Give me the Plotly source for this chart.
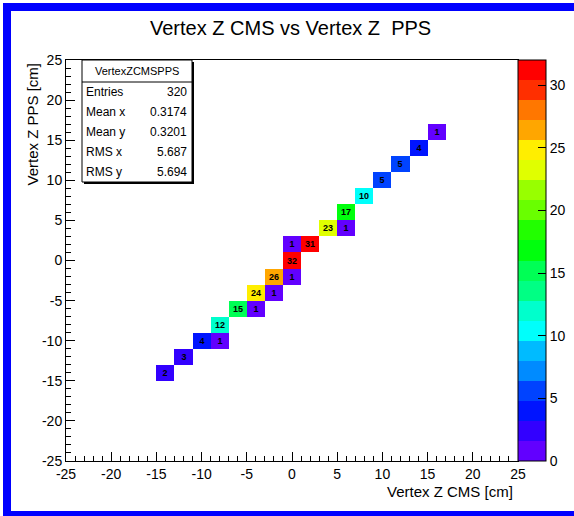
import colorsys
import numpy as np
import plotly.graph_objects as go

# ---------------- data ----------------
title_text = "Vertex Z CMS vs Vertex Z  PPS"
x_title = "Vertex Z CMS [cm]"
y_title = "Vertex Z PPS [cm]"

bin_centers = [-24, -22, -20, -18, -16, -14, -12, -10, -8, -6, -4, -2, 0,
               2, 4, 6, 8, 10, 12, 14, 16, 18, 20, 22, 24]

cell_x = [-14, -12, -10, -8, -8, -6, -4, -4, -2, -2, 0, 0, 0, 2, 4, 6, 6, 8, 10, 12, 14, 16]
cell_y = [-14, -12, -10, -10, -8, -6, -6, -4, -4, -2, -2, 0, 2, 2, 4, 4, 6, 8, 10, 12, 14, 16]
counts = [2, 3, 4, 1, 12, 15, 1, 24, 1, 26, 1, 32, 1, 31, 23, 1, 17, 10, 5, 5, 4, 1]

stats_name = "VertexZCMSPPS"
stats_labels = ["Entries", "Mean x", "Mean y", "RMS x", "RMS y"]
stats_values = ["320", "0.3174", "0.3201", "5.687", "5.694"]

z_ticks = [0, 5, 10, 15, 20, 25, 30]
axis_ticks = [-25, -20, -15, -10, -5, 0, 5, 10, 15, 20, 25]

# ---------------- build grid ----------------
n = len(bin_centers)
z = [[None] * n for _ in range(n)]
for cx, cy, c in zip(cell_x, cell_y, counts):
    z[bin_centers.index(cy)][bin_centers.index(cx)] = c

# ROOT "pretty palette" (violet -> red), 20 contour levels
ncont = 20
zmin, zmax = 0, 32
bands = []
for k in range(ncont):
    idx = int((k + 0.99) * 50 / ncont)
    hue = max(0.0, 280 - (idx + 1) * 280 / 50) if idx < 49 else 0.0
    r, g, b = colorsys.hls_to_rgb(hue / 360.0, 0.5, 1.0)
    bands.append(f"rgb({int(r*255)},{int(g*255)},{int(b*255)})")
colorscale = []
for k, c in enumerate(bands):
    colorscale.append([k / ncont, c])
    colorscale.append([(k + 1) / ncont, c])

# ---------------- layout geometry ----------------
W, H = 574, 516
ml, mr, mt, mb = 66, 56, 60, 55
pw, ph = W - ml - mr, H - mt - mb


def fx(px):
    return (px - ml) / pw


def fy(py):
    return 1 - (py - mt) / ph


FONT = "Liberation Sans, Arial, Helvetica, sans-serif"

fig = go.Figure()
fig.add_trace(go.Heatmap(
    x=bin_centers, y=bin_centers, z=z,
    zmin=zmin, zmax=zmax, colorscale=colorscale,
    texttemplate="<b>%{z}</b>",
    textfont=dict(size=9, color="black", family=FONT),
    hoverongaps=False,
    colorbar=dict(
        x=fx(518), xanchor="left", y=fy(60), yanchor="top",
        len=ph, lenmode="pixels", thickness=28, thicknessmode="pixels",
        xpad=0, ypad=0, outlinewidth=1, outlinecolor="black",
        ticks="inside", ticklen=8, tickcolor="black", tickwidth=1,
        tickvals=z_ticks, ticktext=[str(t) for t in z_ticks],
        tickfont=dict(size=14, color="black", family=FONT),
    ),
))

axis_common = dict(
    range=[-25, 25], tickvals=axis_ticks, ticktext=[str(t) for t in axis_ticks],
    ticks="inside", ticklen=9, tickcolor="black", tickwidth=1,
    minor=dict(dtick=1, ticks="inside", ticklen=5, tickcolor="black", tick0=-25),
    showline=True, linecolor="black", linewidth=1, mirror=True,
    showgrid=False, zeroline=False,
    tickfont=dict(size=14, color="black", family=FONT),
)
fig.update_xaxes(**axis_common)
fig.update_yaxes(**axis_common)

shapes = []
# blue canvas frame
shapes.append(dict(type="rect", xref="paper", yref="paper",
                   x0=fx(7), x1=fx(600), y0=fy(7), y1=fy(515),
                   line=dict(color="#0000ff", width=8), fillcolor="rgba(0,0,0,0)"))
# stats box shadow + box
shapes.append(dict(type="rect", xref="paper", yref="paper",
                   x0=fx(84), x1=fx(194), y0=fy(62), y1=fy(184),
                   line=dict(width=0), fillcolor="black"))
shapes.append(dict(type="rect", xref="paper", yref="paper",
                   x0=fx(82), x1=fx(192), y0=fy(60), y1=fy(182),
                   line=dict(color="black", width=1), fillcolor="white"))
shapes.append(dict(type="line", xref="paper", yref="paper",
                   x0=fx(82), x1=fx(192), y0=fy(82), y1=fy(82),
                   line=dict(color="black", width=1)))

annotations = []
annotations.append(dict(text=title_text, xref="paper", yref="paper",
                        x=fx(290), y=fy(28), xanchor="center", yanchor="middle",
                        showarrow=False, font=dict(size=20, color="black", family=FONT)))
annotations.append(dict(text=x_title, xref="paper", yref="paper",
                        x=fx(515), y=fy(491), xanchor="right", yanchor="middle",
                        showarrow=False, font=dict(size=15, color="black", family=FONT)))
annotations.append(dict(text=y_title, xref="paper", yref="paper", textangle=-90,
                        x=fx(32), y=fy(61), xanchor="center", yanchor="top",
                        showarrow=False, font=dict(size=15, color="black", family=FONT)))
annotations.append(dict(text=stats_name, xref="paper", yref="paper",
                        x=fx(137), y=fy(71), xanchor="center", yanchor="middle",
                        showarrow=False, font=dict(size=11, color="black", family=FONT)))
for i, (lab, val) in enumerate(zip(stats_labels, stats_values)):
    yc = 92 + 20 * i
    annotations.append(dict(text=lab, xref="paper", yref="paper",
                            x=fx(84), y=fy(yc), xanchor="left", yanchor="middle",
                            showarrow=False, font=dict(size=12, color="black", family=FONT)))
    annotations.append(dict(text=val, xref="paper", yref="paper",
                            x=fx(189), y=fy(yc), xanchor="right", yanchor="middle",
                            showarrow=False, font=dict(size=12, color="black", family=FONT)))

fig.update_layout(
    width=W, height=H,
    margin=dict(l=ml, r=mr, t=mt, b=mb, autoexpand=False),
    paper_bgcolor="white", plot_bgcolor="white",
    shapes=shapes, annotations=annotations,
    showlegend=False,
)

fig.write_html(
    "out.html",
    config={"displayModeBar": False},
    post_script="document.body.style.margin='0';document.body.style.overflow='hidden';",
)
